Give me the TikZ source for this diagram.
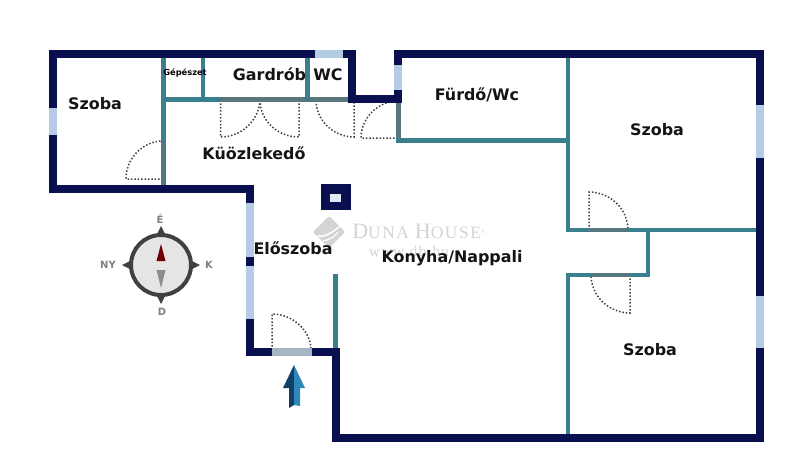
\documentclass[tikz,border=0pt]{standalone}
\usepackage{fontspec}
\setmainfont{DejaVu Sans}
\newfontfamily\lserif[LetterSpace=8.5]{Liberation Serif}
\newfontfamily\lserifweb[LetterSpace=9]{Liberation Serif}
\newfontfamily\lserifplain{Liberation Serif}
\definecolor{wallc}{HTML}{0A0F50}
\definecolor{tealc}{HTML}{3A7F8E}
\definecolor{grayw}{HTML}{57777C}
\definecolor{winc}{HTML}{B4CDE4}
\definecolor{wmark}{HTML}{D4D4D4}
\definecolor{arrowdark}{HTML}{123F66}
\definecolor{arrowlight}{HTML}{2F86B8}
\tikzset{
  x=1pt,y=-1pt,
  wall/.style={line width=8pt,color=wallc,line cap=butt},
  inner wall/.style={line width=4.3pt,color=tealc,line cap=butt},
  door wall/.style={line width=4.3pt,color=grayw,line cap=butt},
  win/.style={line width=8pt,color=winc,line cap=butt},
  swing/.style={line width=1.5pt,color=black!75,dash pattern=on 1.5pt off 1.9pt},
  room/.style={inner sep=0pt,font=\fontsize{15.9}{16}\selectfont\bfseries,text=black!92},
  dir/.style={inner sep=0pt,font=\fontsize{10}{10}\selectfont\bfseries,text=black!50},
}
\begin{document}
\begin{tikzpicture}
\useasboundingbox (0,0) rectangle (800,471);
\fill[white] (0,0) rectangle (800,471);

% watermark
\fill[wmark,rounded corners=2pt] (329,216) -- (345,232) -- (329,248) -- (313,232) -- cycle;
\draw[white,line width=1.6pt] (318,236) .. controls (326,237) and (333,232) .. (340,226);
\draw[white,line width=1.2pt] (323,241) .. controls (330,240) and (335,236) .. (338,232);
\node[inner sep=0pt,text=wmark] (brand) at (418.5,231.5) {\lserif\fontsize{22}{22}\selectfont D\fontsize{17.5}{17.5}\selectfont UNA \fontsize{22}{22}\selectfont H\fontsize{17.5}{17.5}\selectfont OUSE\raisebox{5pt}{\lserifplain\fontsize{5}{5}\selectfont®}};
\node[inner sep=0pt,text=wmark] (web) at (409,251) {\lserifweb\fontsize{15}{15}\selectfont www.db.hu};

% door swings
\draw[swing] (163,179) -- (126,179) .. controls (126,158) and (143,141) .. (163,141);
\draw[swing] (220.5,100) -- (220.5,137) .. controls (242,137) and (259,120) .. (260,100);
\draw[swing] (299,100) -- (299,137) .. controls (277,137) and (260,120) .. (260,100);
\draw[swing] (354,102) -- (354,137) .. controls (333,137) and (316,120) .. (316,100);
\draw[swing] (398,138) -- (361,138) .. controls (361,118) and (378,101) .. (398,101);
\draw[swing] (272,350) -- (272,314) .. controls (293,314) and (311,331) .. (311,350);
\draw[swing] (589,230) -- (589,192) .. controls (610,192) and (628,209) .. (628,230);
\draw[swing] (630,275) -- (630,313) .. controls (609,313) and (591,296) .. (591,275);

% inner walls
\draw[inner wall] (163.5,55) -- (163.5,142);
\draw[door wall] (163.5,142) -- (163.5,187);
\draw[inner wall] (161.4,99.5) -- (220,99.5);
\draw[door wall] (220,99.5) -- (350,99.5);
\draw[inner wall] (203,55) -- (203,99.5);
\draw[inner wall] (307.5,55) -- (307.5,99.5);
\draw[door wall] (398.5,103) -- (398.5,140.5);
\draw[inner wall] (396.4,140.5) -- (568,140.5);
\draw[inner wall] (568,55) -- (568,232);
\draw[inner wall] (565.9,230) -- (756,230);
\draw[door wall] (589,230) -- (628,230);
\draw[inner wall] (648,230) -- (648,277);
\draw[inner wall] (565.9,275) -- (650.1,275);
\draw[door wall] (591,275) -- (630,275);
\draw[inner wall] (568,275) -- (568,435);
\draw[inner wall] (335.5,274) -- (335.5,350);

% outer walls
\draw[wall,line join=miter] (53,108) -- (53,53.5) -- (315,53.5);
\draw[win] (315,53.5) -- (343,53.5);
\draw[wall,line join=miter] (343,53.5) -- (352,53.5) -- (352,99) -- (398,99);
\draw[wall] (398,103) -- (398,90);
\draw[win] (398,90) -- (398,65);
\draw[wall,line join=miter] (398,65) -- (398,53.5) -- (759.5,53.5) -- (759.5,105);
\draw[win] (759.5,105) -- (759.5,158);
\draw[wall] (759.5,158) -- (759.5,296);
\draw[win] (759.5,296) -- (759.5,348);
\draw[wall,line join=miter] (759.5,348) -- (759.5,437.5) -- (335.5,437.5) -- (335.5,352) -- (312,352);
\draw[win,color=winc!70!gray] (312,352) -- (272,352);
\draw[wall,line join=miter] (272,352) -- (250,352) -- (250,319);
\draw[win] (250,319) -- (250,266);
\draw[wall] (250,266) -- (250,257);
\draw[win] (250,257) -- (250,203);
\draw[wall,line join=miter] (250,203) -- (250,189) -- (53,189) -- (53,135);
\draw[win] (53,135) -- (53,108);

% chimney
\fill[wallc] (320.7,184) rectangle (350.7,210);
\fill[winc!40!white] (330,194) rectangle (340.7,201.7);

% compass
\fill[black!75] (161,226) -- (166,236) -- (156,236) -- cycle;
\fill[black!75] (161,304) -- (166,294) -- (156,294) -- cycle;
\fill[black!75] (122,265) -- (132,260) -- (132,270) -- cycle;
\fill[black!75] (200,265) -- (190,260) -- (190,270) -- cycle;
\draw[black!75,line width=4pt,fill=black!10] (161,265) circle [radius=30pt];
\fill[red!45!black] (161,244) -- (165.5,261) -- (156.5,261) -- cycle;
\fill[black!45] (161,288) -- (165.5,270) -- (156.5,270) -- cycle;
\node[dir] (n) at (160,219) {É};
\node[dir] (s) at (162,312) {D};
\node[dir] (w) at (108,265) {NY};
\node[dir] (e) at (209,265) {K};

% entrance arrow
\fill[arrowdark] (294,365) -- (283,388) -- (289,388) -- (289,408) -- (294,405) -- cycle;
\fill[arrowlight] (294,365) -- (305,388) -- (300,388) -- (300,406) -- (294,405) -- cycle;

% labels
\node[room] (szoba1) at (95,104) {Szoba};
\node[inner sep=0pt,font=\fontsize{8.3}{8.3}\selectfont\bfseries] (gepeszet) at (185,73) {Gépészet};
\node[room] (gardrob) at (269.5,74) {Gardrób};
\node[room] (wc) at (328,75) {WC};
\node[room] (furdo) at (477,95) {Fürdő/Wc};
\node[room] (kozl) at (254,153.5) {Küözlekedő};
\node[room] (eloszoba) at (293,248) {Előszoba};
\node[room] (konyha) at (452,258) {Konyha/Nappali};
\node[room] (szoba2) at (657,129.5) {Szoba};
\node[room] (szoba3) at (650,350) {Szoba};
\end{tikzpicture}
\end{document}
